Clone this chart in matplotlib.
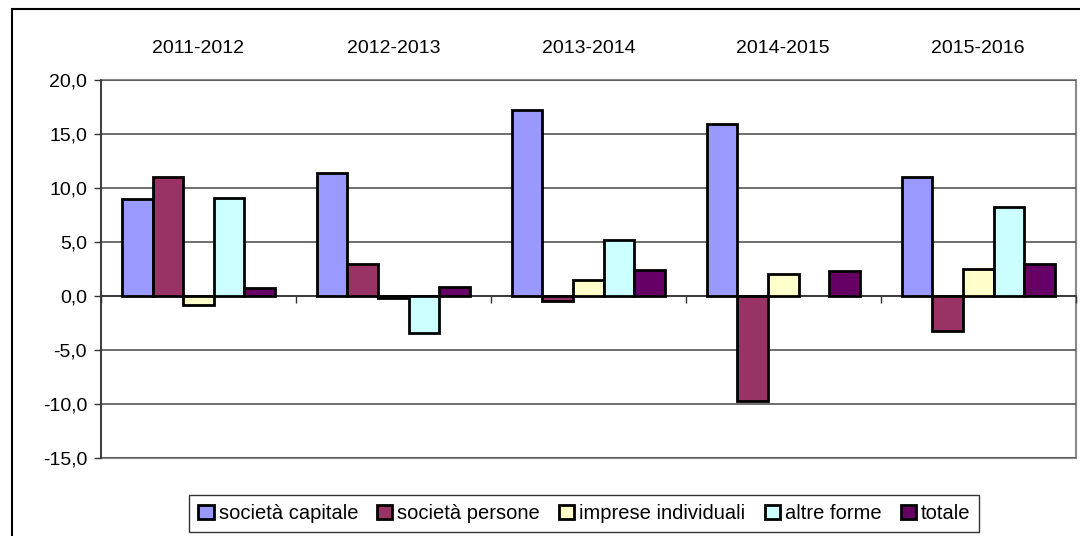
import numpy as np
import matplotlib.pyplot as plt
from matplotlib.patches import Rectangle
from matplotlib.ticker import FuncFormatter

plt.rcParams['font.family'] = ['Liberation Sans', 'DejaVu Sans']

periodi = ['2011-2012', '2012-2013', '2013-2014', '2014-2015', '2015-2016']
serie = ['società capitale', 'società persone', 'imprese individuali', 'altre forme', 'totale']
soc_capitale = [9.0, 11.4, 17.2, 15.9, 11.0]
soc_persone = [11.0, 3.0, -0.5, -9.7, -3.2]
imprese_ind = [-0.8, -0.2, 1.5, 2.0, 2.5]
altre_forme = [9.1, -3.4, 5.2, np.nan, 8.2]
totale = [0.7, 0.8, 2.4, 2.3, 3.0]
valori = [soc_capitale, soc_persone, imprese_ind, altre_forme, totale]
colori = ['#9999FF', '#993366', '#FFFFCC', '#CCFFFF', '#660066']

fig = plt.figure(figsize=(10.8, 5.36), dpi=100)
ax = fig.add_axes([0.0935, 0.1455, 0.9025, 0.7052])

x = np.arange(len(periodi))
w = 0.157
for i, (v, c, s) in enumerate(zip(valori, colori, serie)):
    ax.bar(x + (i - 2) * w, v, w, color=c, edgecolor='black', linewidth=2,
           label=s, zorder=3)

ax.set_xlim(-0.5, 4.5)
ax.set_ylim(-15, 20)
ax.set_yticks(np.arange(-15, 21, 5))
ax.yaxis.set_major_formatter(FuncFormatter(lambda v, p: ('%.1f' % v).replace('.', ',')))
ax.grid(axis='y', color='#555555', linewidth=1.2, zorder=0)
ax.tick_params(axis='y', labelsize=14, length=5, width=1, pad=5, colors='#333333', labelcolor='black')

# asse x sullo zero, con tacche ai confini delle categorie
for s in ['top', 'right']:
    ax.spines[s].set_visible(False)
ax.spines['bottom'].set_position(('data', 0))
ax.spines['bottom'].set_color('#333333')
ax.spines['bottom'].set_linewidth(1.2)
ax.spines['left'].set_color('#333333')
ax.spines['left'].set_linewidth(1.2)
ax.set_xticks(np.arange(-0.5, 5, 1))
ax.set_xticklabels([])
ax.tick_params(axis='x', length=5, width=1, colors='#333333')
ax.add_patch(Rectangle((0, 0), 1, 1, transform=ax.transAxes, fill=False,
                       edgecolor='#888888', linewidth=1.5, clip_on=False, zorder=1))

for i, p in enumerate(periodi):
    ax.text(i, 1.06, p, transform=ax.get_xaxis_transform(), ha='center', va='bottom', fontsize=14)

leg = fig.legend(loc='lower center', bbox_to_anchor=(0.541, 0.0), ncol=5, fontsize=14.5,
                 frameon=True, fancybox=False, edgecolor='black', handlelength=0.75,
                 handleheight=0.75, handletextpad=0.25, columnspacing=0.95,
                 borderpad=0.45, borderaxespad=0.2)
leg.get_frame().set_linewidth(1)

fig.patches.append(Rectangle((12 / 1080, -0.1), 1.1, 1.1 - 9 / 536, transform=fig.transFigure,
                             fill=False, edgecolor='black', linewidth=1.5))

fig.savefig('out.png', dpi=100)
